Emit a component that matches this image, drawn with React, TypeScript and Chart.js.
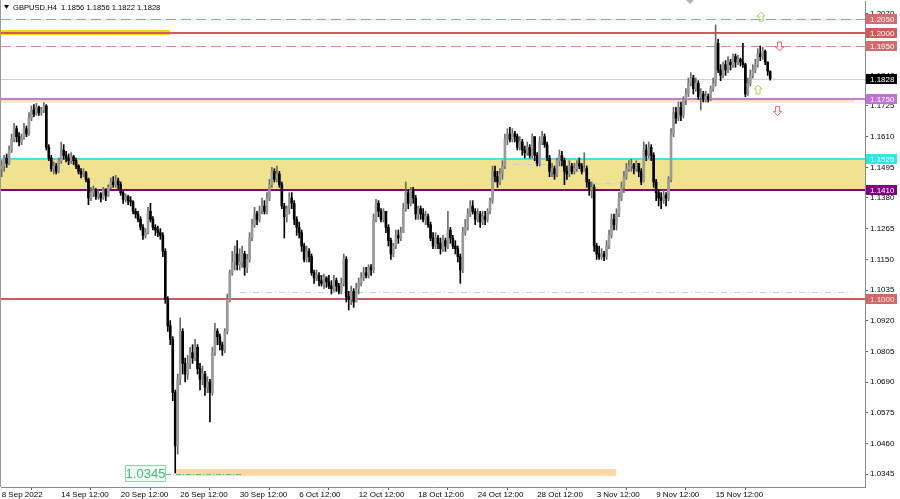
import React, { useEffect, useRef } from "react";
import { Chart, registerables } from "chart.js";

Chart.register(...registerables);

// ---------- DATA (GBPUSD H4) ----------
const symbolTitle = "GBPUSD,H4  1.1856 1.1856 1.1822 1.1828";
const firstOpen = 1.149;

const closes = [
  // 0-23
  1.1500, 1.1530, 1.1510, 1.1560, 1.1600, 1.1640, 1.1610, 1.1590, 1.1605, 1.1640, 1.1620, 1.1680,
  1.1710, 1.1695, 1.1720, 1.1700, 1.1710, 1.1725, 1.1570, 1.1530, 1.1490, 1.1500, 1.1480, 1.1520,
  // 24-47
  1.1560, 1.1540, 1.1530, 1.1520, 1.1535, 1.1520, 1.1500, 1.1480, 1.1470, 1.1475, 1.1450, 1.1380,
  1.1400, 1.1410, 1.1385, 1.1395, 1.1380, 1.1410, 1.1390, 1.1420, 1.1440, 1.1430, 1.1445, 1.1430,
  // 48-73
  1.1400, 1.1375, 1.1385, 1.1370, 1.1365, 1.1330, 1.1320, 1.1300, 1.1270, 1.1240, 1.1250, 1.1330,
  1.1300, 1.1270, 1.1260, 1.1250, 1.1240, 1.1180, 1.1000, 1.0900, 1.0850, 1.0650, 1.0450, 1.0700,
  1.0880, 1.0760,
  // 74-95
  1.0720, 1.0760, 1.0800, 1.0780, 1.0820, 1.0740, 1.0700, 1.0720, 1.0670, 1.0690, 1.0650, 1.0800,
  1.0880, 1.0860, 1.0830, 1.0810, 1.0880, 1.1000, 1.1100, 1.1140, 1.1170, 1.1130,
  // 96-119
  1.1140, 1.1170, 1.1120, 1.1150, 1.1230, 1.1280, 1.1320, 1.1300, 1.1330, 1.1350, 1.1330, 1.1380,
  1.1430, 1.1480, 1.1450, 1.1470, 1.1430, 1.1350, 1.1310, 1.1340, 1.1380, 1.1360, 1.1300, 1.1270,
  // 120-144
  1.1250, 1.1200, 1.1150, 1.1180, 1.1160, 1.1100, 1.1080, 1.1090, 1.1070, 1.1060, 1.1080, 1.1065,
  1.1050, 1.1040, 1.1070, 1.1050, 1.1030, 1.1060, 1.1150, 1.1010, 1.1000, 1.1030, 1.0990, 1.1040,
  1.1060,
  // 145-168
  1.1080, 1.1100, 1.1090, 1.1120, 1.1110, 1.1300, 1.1360, 1.1330, 1.1300, 1.1330, 1.1270, 1.1220,
  1.1170, 1.1200, 1.1240, 1.1230, 1.1250, 1.1340, 1.1400, 1.1360, 1.1410, 1.1380, 1.1320, 1.1340,
  // 169-192
  1.1320, 1.1300, 1.1310, 1.1280, 1.1230, 1.1200, 1.1230, 1.1210, 1.1190, 1.1220, 1.1200, 1.1260,
  1.1230, 1.1200, 1.1190, 1.1160, 1.1110, 1.1250, 1.1270, 1.1320, 1.1350, 1.1330, 1.1300, 1.1320,
  // 193-216
  1.1290, 1.1310, 1.1300, 1.1330, 1.1370, 1.1480, 1.1460, 1.1440, 1.1470, 1.1500, 1.1600, 1.1620,
  1.1600, 1.1620, 1.1610, 1.1570, 1.1590, 1.1560, 1.1550, 1.1570, 1.1540, 1.1610, 1.1540, 1.1510,
  // 217-240
  1.1590, 1.1610, 1.1580, 1.1530, 1.1480, 1.1490, 1.1470, 1.1520, 1.1540, 1.1520, 1.1480, 1.1470,
  1.1500, 1.1480, 1.1490, 1.1510, 1.1500, 1.1480, 1.1490, 1.1440, 1.1410, 1.1420, 1.1200, 1.1170,
  // 241-265
  1.1160, 1.1170, 1.1160, 1.1200, 1.1240, 1.1300, 1.1280, 1.1320, 1.1380, 1.1420, 1.1460, 1.1490,
  1.1500, 1.1505, 1.1490, 1.1510, 1.1480, 1.1440, 1.1560, 1.1540, 1.1570, 1.1540, 1.1440, 1.1400,
  1.1380,
  // 266-287
  1.1370, 1.1390, 1.1380, 1.1450, 1.1620, 1.1700, 1.1680, 1.1720, 1.1690, 1.1750, 1.1770, 1.1810,
  1.1830, 1.1790, 1.1810, 1.1760, 1.1770, 1.1750, 1.1760, 1.1750, 1.1790, 1.1810,
  // 288-310
  1.1960, 1.1860, 1.1840, 1.1880, 1.1860, 1.1890, 1.1880, 1.1910, 1.1890, 1.1900, 1.1890, 1.1880,
  1.1770, 1.1810, 1.1840, 1.1860, 1.1880, 1.1920, 1.1910, 1.1930, 1.1890, 1.1856, 1.1828,
];

const highs = [
  1.1520, 1.1540, 1.1545, 1.1575, 1.1620, 1.1660, 1.1650, 1.1625, 1.1620, 1.1660, 1.1650, 1.1700,
  1.1725, 1.1730, 1.1735, 1.1725, 1.1720, 1.1738, 1.1730, 1.1580, 1.1540, 1.1515, 1.1510, 1.1530,
  1.1590, 1.1580, 1.1555, 1.1545, 1.1550, 1.1540, 1.1530, 1.1505, 1.1490, 1.1490, 1.1480, 1.1455,
  1.1420, 1.1425, 1.1415, 1.1410, 1.1400, 1.1420, 1.1415, 1.1430, 1.1455, 1.1460, 1.1465, 1.1455,
  1.1440, 1.1405, 1.1395, 1.1390, 1.1385, 1.1370, 1.1340, 1.1330, 1.1310, 1.1280, 1.1265, 1.1345,
  1.1360, 1.1310, 1.1280, 1.1275, 1.1265, 1.1250, 1.1190, 1.1010, 1.0920, 1.0860, 1.0660, 1.0720,
  1.0930, 1.0890,
  1.0780, 1.0790, 1.0820, 1.0830, 1.0850, 1.0830, 1.0760, 1.0750, 1.0730, 1.0710, 1.0700, 1.0820,
  1.0910, 1.0890, 1.0870, 1.0840, 1.0890, 1.1020, 1.1110, 1.1180, 1.1200, 1.1220,
  1.1190, 1.1200, 1.1180, 1.1170, 1.1250, 1.1300, 1.1345, 1.1330, 1.1350, 1.1380, 1.1370, 1.1400,
  1.1450, 1.1495, 1.1490, 1.1500, 1.1480, 1.1440, 1.1360, 1.1350, 1.1400, 1.1400, 1.1370, 1.1310,
  1.1290, 1.1260, 1.1210, 1.1200, 1.1190, 1.1170, 1.1110, 1.1110, 1.1100, 1.1090, 1.1095, 1.1085,
  1.1090, 1.1070, 1.1090, 1.1080, 1.1060, 1.1080, 1.1170, 1.1160, 1.1030, 1.1050, 1.1040, 1.1060,
  1.1080,
  1.1100, 1.1120, 1.1120, 1.1130, 1.1130, 1.1320, 1.1375, 1.1370, 1.1340, 1.1340, 1.1330, 1.1280,
  1.1230, 1.1210, 1.1260, 1.1260, 1.1270, 1.1360, 1.1440, 1.1410, 1.1420, 1.1420, 1.1390, 1.1350,
  1.1350, 1.1340, 1.1330, 1.1320, 1.1290, 1.1250, 1.1250, 1.1240, 1.1230, 1.1240, 1.1230, 1.1330,
  1.1270, 1.1240, 1.1220, 1.1200, 1.1170, 1.1270, 1.1300, 1.1340, 1.1370, 1.1370, 1.1340, 1.1340,
  1.1330, 1.1330, 1.1330, 1.1340, 1.1380, 1.1500, 1.1500, 1.1480, 1.1490, 1.1520, 1.1620, 1.1640,
  1.1645, 1.1640, 1.1630, 1.1620, 1.1610, 1.1600, 1.1575, 1.1590, 1.1580, 1.1620, 1.1610, 1.1550,
  1.1610, 1.1630, 1.1620, 1.1590, 1.1540, 1.1510, 1.1500, 1.1530, 1.1560, 1.1555, 1.1530, 1.1500,
  1.1520, 1.1510, 1.1510, 1.1520, 1.1530, 1.1510, 1.1550, 1.1500, 1.1450, 1.1440, 1.1430, 1.1210,
  1.1200, 1.1190, 1.1180, 1.1220, 1.1260, 1.1320, 1.1320, 1.1340, 1.1400, 1.1440, 1.1480, 1.1510,
  1.1520, 1.1525, 1.1510, 1.1520, 1.1510, 1.1490, 1.1590, 1.1580, 1.1590, 1.1580, 1.1550, 1.1450,
  1.1410,
  1.1400, 1.1410, 1.1400, 1.1460, 1.1640, 1.1720, 1.1720, 1.1740, 1.1740, 1.1760, 1.1790, 1.1830,
  1.1850, 1.1840, 1.1830, 1.1820, 1.1790, 1.1780, 1.1780, 1.1770, 1.1800, 1.1830,
  1.2029, 1.1975, 1.1880, 1.1890, 1.1895, 1.1910, 1.1900, 1.1920, 1.1920, 1.1915, 1.1905, 1.1960,
  1.1885, 1.1830, 1.1860, 1.1880, 1.1900, 1.1940, 1.1950, 1.1945, 1.1935, 1.1890, 1.1856,
];

const lows = [
  1.1460, 1.1480, 1.1495, 1.1505, 1.1550, 1.1590, 1.1590, 1.1575, 1.1580, 1.1600, 1.1610, 1.1615,
  1.1670, 1.1685, 1.1690, 1.1690, 1.1690, 1.1700, 1.1560, 1.1520, 1.1480, 1.1470, 1.1470, 1.1475,
  1.1510, 1.1525, 1.1515, 1.1505, 1.1510, 1.1505, 1.1490, 1.1470, 1.1455, 1.1460, 1.1440, 1.1355,
  1.1370, 1.1385, 1.1375, 1.1375, 1.1365, 1.1375, 1.1370, 1.1385, 1.1415, 1.1420, 1.1420, 1.1415,
  1.1390, 1.1360, 1.1365, 1.1355, 1.1350, 1.1320, 1.1305, 1.1290, 1.1260, 1.1225, 1.1230, 1.1245,
  1.1290, 1.1260, 1.1240, 1.1235, 1.1225, 1.1160, 1.0985, 1.0880, 1.0830, 1.0620, 1.0349, 1.0420,
  1.0680, 1.0720,
  1.0690, 1.0700, 1.0740, 1.0760, 1.0770, 1.0720, 1.0660, 1.0680, 1.0640, 1.0650, 1.0540, 1.0640,
  1.0790, 1.0830, 1.0810, 1.0790, 1.0800, 1.0870, 1.0990, 1.1090, 1.1110, 1.1110,
  1.1110, 1.1120, 1.1090, 1.1100, 1.1140, 1.1220, 1.1270, 1.1280, 1.1290, 1.1320, 1.1320, 1.1320,
  1.1370, 1.1420, 1.1440, 1.1440, 1.1420, 1.1340, 1.1230, 1.1290, 1.1320, 1.1340, 1.1280, 1.1240,
  1.1230, 1.1180, 1.1140, 1.1140, 1.1140, 1.1090, 1.1060, 1.1070, 1.1050, 1.1050, 1.1040, 1.1045,
  1.1040, 1.1020, 1.1030, 1.1030, 1.1020, 1.1020, 1.1050, 1.0990, 1.0960, 1.0980, 1.0970, 1.0990,
  1.1020,
  1.1050, 1.1070, 1.1080, 1.1080, 1.1090, 1.1100, 1.1290, 1.1310, 1.1290, 1.1290, 1.1250, 1.1200,
  1.1150, 1.1160, 1.1190, 1.1210, 1.1220, 1.1250, 1.1330, 1.1340, 1.1350, 1.1360, 1.1300, 1.1300,
  1.1300, 1.1290, 1.1280, 1.1270, 1.1220, 1.1190, 1.1190, 1.1190, 1.1170, 1.1180, 1.1180, 1.1190,
  1.1210, 1.1190, 1.1170, 1.1140, 1.1060, 1.1100, 1.1240, 1.1260, 1.1310, 1.1320, 1.1280, 1.1290,
  1.1270, 1.1280, 1.1280, 1.1290, 1.1320, 1.1360, 1.1440, 1.1420, 1.1430, 1.1450, 1.1490, 1.1580,
  1.1590, 1.1590, 1.1590, 1.1560, 1.1560, 1.1540, 1.1530, 1.1540, 1.1530, 1.1530, 1.1520, 1.1500,
  1.1500, 1.1580, 1.1570, 1.1520, 1.1460, 1.1460, 1.1450, 1.1460, 1.1500, 1.1500, 1.1430, 1.1450,
  1.1460, 1.1470, 1.1470, 1.1480, 1.1490, 1.1470, 1.1480, 1.1420, 1.1390, 1.1380, 1.1180, 1.1150,
  1.1150, 1.1150, 1.1145, 1.1150, 1.1190, 1.1230, 1.1260, 1.1260, 1.1310, 1.1370, 1.1400, 1.1450,
  1.1480, 1.1480, 1.1470, 1.1480, 1.1460, 1.1430, 1.1440, 1.1520, 1.1530, 1.1520, 1.1420, 1.1370,
  1.1350,
  1.1340, 1.1360, 1.1350, 1.1370, 1.1440, 1.1610, 1.1660, 1.1670, 1.1670, 1.1680, 1.1730, 1.1760,
  1.1800, 1.1770, 1.1780, 1.1750, 1.1710, 1.1740, 1.1740, 1.1740, 1.1745, 1.1780,
  1.1800, 1.1850, 1.1820, 1.1830, 1.1840, 1.1850, 1.1860, 1.1870, 1.1870, 1.1880, 1.1875, 1.1870,
  1.1760, 1.1765, 1.1800, 1.1830, 1.1850, 1.1870, 1.1895, 1.1900, 1.1880, 1.1840, 1.1822,
];

const xTickIdx = [0, 24, 48, 72, 96, 120, 144, 168, 192, 216, 240, 264, 288];
const xTickLabels = [
  "8 Sep 2022", "14 Sep 12:00", "20 Sep 12:00", "26 Sep 12:00", "30 Sep 12:00", "6 Oct 12:00",
  "12 Oct 12:00", "18 Oct 12:00", "24 Oct 12:00", "28 Oct 12:00", "3 Nov 12:00", "9 Nov 12:00",
  "15 Nov 12:00",
];
const yTicks = [
  1.2070, 1.1955, 1.1840, 1.1725, 1.1610, 1.1495, 1.1380, 1.1265, 1.1150, 1.1035, 1.0920, 1.0805,
  1.0690, 1.0575, 1.0460, 1.0345,
];

// horizontal levels with right-side price labels
const levelPrices = [1.2050, 1.2000, 1.1950, 1.1828, 1.1750, 1.1525, 1.1410, 1.1000];
const levelLabels = ["1.2050", "1.2000", "1.1950", "1.1828", "1.1750", "1.1525", "1.1410", "1.1000"];

// zone and other objects (price / bar-index units)
const zonePrices = [1.1525, 1.1410];
const goldSegment = { price: 1.2, fromIdx: -1, toIdx: 67.9 };
const peachTop = { top: 1.175, bottom: 1.1738, fromIdx: -1, toIdx: 344.2 };
const peachLow = { top: 1.0364, bottom: 1.0338, fromIdx: 70, toIdx: 247.8 };
const dashDotLines = [
  { price: 1.1026, fromIdx: 96.1, toIdx: 343 },
  { price: 1.1507, fromIdx: 206.3, toIdx: 222 },
  { price: 1.1436, fromIdx: 238.1, toIdx: 248.2 },
];
const lowMark = { price: 1.0345, fromIdx: 66.3, toIdx: 97.4, label: "1.0345" };
const arrowIdx = [306.3, 313.8, 305.1, 313.0];
const arrowPrice = [1.206, 1.1948, 1.1787, 1.1706];
const arrowUp = [true, false, true, false];

// ---------- STYLES ----------
const levelStyles = [
  { color: "#e08585", width: 1, dash: [10, 5], box: "#d46a6a", text: "#ffffff" },
  { color: "#cd5c5c", width: 2, dash: [], box: "#cd5c5c", text: "#ffffff" },
  { color: "#e08585", width: 1, dash: [10, 5], box: "#d46a6a", text: "#ffffff" },
  { color: "#cfcfcf", width: 1, dash: [], box: "#000000", text: "#ffffff" },
  { color: "#c97ec9", width: 2, dash: [], box: "#bf72da", text: "#ffffff" },
  { color: "#3fe6e6", width: 2, dash: [], box: "#2ee8e8", text: "#ffffff" },
  { color: "#800080", width: 2, dash: [], box: "#800080", text: "#ffffff" },
  { color: "#c95c5c", width: 2, dash: [], box: "#d06868", text: "#ffe2e2" },
];
const FONT = "Liberation Sans";
const BULL_BODY = "#9a9a9a";
const BEAR_BODY = "#000000";
const BULL_WICK = "#6a6a6a";
const BEAR_WICK = "#000000";

const X_MIN = -0.28;
const X_MAX = 348.25;
const Y_MIN = 1.02963;
const Y_MAX = 1.21187;

function hLine(ctx: CanvasRenderingContext2D, x1: number, x2: number, yy: number, color: string, width: number, dash: number[]) {
  ctx.save();
  ctx.strokeStyle = color;
  ctx.lineWidth = width;
  ctx.setLineDash(dash);
  const yp = width % 2 === 1 ? Math.round(yy) + 0.5 : Math.round(yy);
  ctx.beginPath();
  ctx.moveTo(x1, yp);
  ctx.lineTo(x2, yp);
  ctx.stroke();
  ctx.restore();
}

function drawArrow(ctx: CanvasRenderingContext2D, cx: number, cy: number, up: boolean, color: string) {
  const h = 9, w = 8, head = 4, sw = 2;
  const s = up ? 1 : -1;
  const tip = cy - (s * h) / 2;
  ctx.save();
  ctx.beginPath();
  ctx.moveTo(cx, tip);
  ctx.lineTo(cx + w / 2, tip + s * head);
  ctx.lineTo(cx + sw, tip + s * head);
  ctx.lineTo(cx + sw, tip + s * h);
  ctx.lineTo(cx - sw, tip + s * h);
  ctx.lineTo(cx - sw, tip + s * head);
  ctx.lineTo(cx - w / 2, tip + s * head);
  ctx.closePath();
  ctx.strokeStyle = color;
  ctx.lineWidth = 1;
  ctx.stroke();
  ctx.restore();
}

const decorPlugin = {
  id: "decor",
  beforeDatasetsDraw(chart: any) {
    const { ctx, chartArea, scales } = chart;
    const xs = scales.x, ys = scales.y;
    const L = chartArea.left, R = chartArea.right;
    const px = (i: number) => Math.max(L, Math.min(R, xs.getPixelForValue(i)));
    ctx.save();
    // left border
    ctx.strokeStyle = "#9a9a9a";
    ctx.lineWidth = 1;
    ctx.beginPath();
    ctx.moveTo(0.5, 0);
    ctx.lineTo(0.5, chartArea.bottom);
    ctx.stroke();
    // zone
    const zt = ys.getPixelForValue(zonePrices[0]);
    const zb = ys.getPixelForValue(zonePrices[1]);
    ctx.fillStyle = "#efe38f";
    ctx.fillRect(L, zt, R - L, zb - zt);
    // peach bands
    ctx.fillStyle = "#fde3c2";
    {
      const t = ys.getPixelForValue(peachTop.top), b = ys.getPixelForValue(peachTop.bottom);
      ctx.fillRect(px(peachTop.fromIdx), t, px(peachTop.toIdx) - px(peachTop.fromIdx), b - t);
    }
    ctx.fillStyle = "#fdd8a4";
    {
      const t = ys.getPixelForValue(peachLow.top), b = ys.getPixelForValue(peachLow.bottom);
      ctx.fillRect(px(peachLow.fromIdx), t, px(peachLow.toIdx) - px(peachLow.fromIdx), b - t);
    }
    // gold highlight on 1.2000
    {
      const gy = ys.getPixelForValue(goldSegment.price);
      ctx.fillStyle = "#ffd700";
      ctx.fillRect(px(goldSegment.fromIdx), Math.round(gy) - 3, px(goldSegment.toIdx) - px(goldSegment.fromIdx), 5);
    }
    // dash-dot lines
    dashDotLines.forEach((d) => {
      hLine(ctx, px(d.fromIdx), px(d.toIdx), ys.getPixelForValue(d.price), "#a6dede", 1, [6, 3, 1, 3]);
    });
    // low mark green dash-dot
    hLine(ctx, px(lowMark.fromIdx), px(lowMark.toIdx), ys.getPixelForValue(lowMark.price), "#5cc08a", 1, [5, 2, 1, 2]);
    // levels
    levelPrices.forEach((p, i) => {
      const st = levelStyles[i];
      hLine(ctx, L, R, ys.getPixelForValue(p), st.color, st.width, st.dash);
    });
    ctx.restore();
  },
  afterDraw(chart: any) {
    const { ctx, chartArea, scales } = chart;
    const xs = scales.x, ys = scales.y;
    const R = chartArea.right;
    ctx.save();
    // right-side price boxes
    ctx.font = `8px "${FONT}"`;
    ctx.textBaseline = "middle";
    ctx.textAlign = "left";
    levelPrices.forEach((p, i) => {
      const st = levelStyles[i];
      const yy = Math.round(ys.getPixelForValue(p));
      ctx.fillStyle = st.box;
      ctx.fillRect(R + 1, yy - 5, 31, 10);
      ctx.fillStyle = st.text;
      ctx.fillText(levelLabels[i], R + 5, yy + 0.5);
    });
    // arrows
    arrowIdx.forEach((ai, k) => {
      drawArrow(ctx, xs.getPixelForValue(ai), ys.getPixelForValue(arrowPrice[k]), arrowUp[k], arrowUp[k] ? "#a9d25a" : "#e46060");
    });
    // green low label
    {
      const yy = Math.round(ys.getPixelForValue(lowMark.price));
      const right = Math.round(xs.getPixelForValue(lowMark.fromIdx));
      const w = 41, h = 17;
      ctx.fillStyle = "#f2fbf5";
      ctx.fillRect(right - w, yy - 9, w, h);
      ctx.strokeStyle = "#8fd4a8";
      ctx.lineWidth = 1;
      ctx.strokeRect(right - w + 0.5, yy - 9 + 0.5, w - 1, h - 1);
      ctx.font = `13px "${FONT}"`;
      ctx.fillStyle = "#45b877";
      ctx.textAlign = "center";
      ctx.fillText(lowMark.label, right - w / 2, yy);
    }
    // header
    ctx.fillStyle = "#000000";
    ctx.beginPath();
    ctx.moveTo(4, 5);
    ctx.lineTo(9, 5);
    ctx.lineTo(6.5, 9);
    ctx.closePath();
    ctx.fill();
    ctx.font = `7.6px "${FONT}"`;
    ctx.textAlign = "left";
    ctx.fillText(symbolTitle, 13, 7.5);
    // shift marker
    const sx = Math.round(chartArea.left + (R - chartArea.left) * 0.797);
    ctx.fillStyle = "#b4b4b4";
    ctx.beginPath();
    ctx.moveTo(sx - 4, 0);
    ctx.lineTo(sx + 4, 0);
    ctx.lineTo(sx, 4);
    ctx.closePath();
    ctx.fill();
    ctx.restore();
  },
};

export default function App() {
  const ref = useRef<HTMLCanvasElement | null>(null);
  useEffect(() => {
    document.body.style.margin = "0";
    const canvas = ref.current;
    if (!canvas) return;
    const opens = closes.map((c, i) => (i === 0 ? firstOpen : closes[i - 1]));
    const bull = closes.map((c, i) => c >= opens[i]);
    const bodyData = closes.map((c, i) => ({ x: i, y: [opens[i], c] }));
    const wickData = closes.map((c, i) => ({
      x: i,
      y: [Math.min(lows[i], opens[i], c), Math.max(highs[i], opens[i], c)],
    }));
    const chart = new Chart(canvas, {
      type: "bar",
      data: {
        datasets: [
          {
            data: bodyData as any,
            backgroundColor: bull.map((b) => (b ? BULL_BODY : BEAR_BODY)),
            borderWidth: 0,
            barThickness: 2,
            minBarLength: 1,
            grouped: false,
          } as any,
          {
            data: wickData as any,
            backgroundColor: bull.map((b) => (b ? BULL_WICK : BEAR_WICK)),
            borderWidth: 0,
            barThickness: 1,
            grouped: false,
          } as any,
        ],
      },
      options: {
        animation: false,
        responsive: false,
        devicePixelRatio: 1,
        events: [],
        layout: { padding: { left: 1, top: 1, right: 0, bottom: 0 } },
        plugins: { legend: { display: false }, tooltip: { enabled: false } },
        scales: {
          x: {
            type: "linear",
            min: X_MIN,
            max: X_MAX,
            offset: false,
            afterBuildTicks: (s: any) => {
              s.ticks = xTickIdx.map((v) => ({ value: v }));
            },
            afterFit: (s: any) => {
              s.height = 12;
              s.paddingLeft = 0;
              s.paddingRight = 0;
            },
            ticks: {
              autoSkip: false,
              maxRotation: 0,
              minRotation: 0,
              align: "start",
              padding: 0,
              color: "#000000",
              font: { family: FONT, size: 8 },
              callback: (v: any) => {
                const k = xTickIdx.indexOf(Number(v));
                return k >= 0 ? xTickLabels[k] : "";
              },
            },
            grid: { drawOnChartArea: false, drawTicks: true, tickLength: 3, color: "#606060" },
            border: { display: true, color: "#8a8a8a" },
          },
          y: {
            type: "linear",
            position: "right",
            min: Y_MIN,
            max: Y_MAX,
            afterBuildTicks: (s: any) => {
              s.ticks = yTicks.map((v) => ({ value: v }));
            },
            afterFit: (s: any) => {
              s.width = 35;
              s.paddingTop = 0;
              s.paddingBottom = 0;
            },
            ticks: {
              autoSkip: false,
              padding: 2,
              color: "#000000",
              font: { family: FONT, size: 8 },
              callback: (v: any) => Number(v).toFixed(4),
            },
            grid: { drawOnChartArea: false, drawTicks: true, tickLength: 3, color: "#606060" },
            border: { display: true, color: "#8a8a8a" },
          },
        },
      } as any,
      plugins: [decorPlugin],
    });
    return () => chart.destroy();
  }, []);
  return (
    <div style={{ width: 900, height: 499, position: "relative", background: "#ffffff" }}>
      <canvas ref={ref} width={900} height={499} style={{ display: "block" }} />
    </div>
  );
}
